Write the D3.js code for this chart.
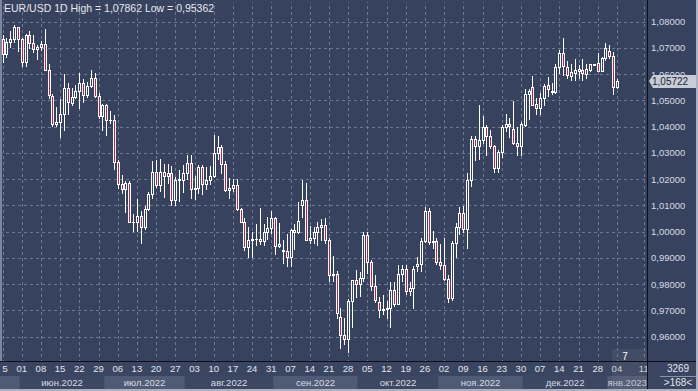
<!DOCTYPE html>
<html><head><meta charset="utf-8">
<script src="https://cdn.jsdelivr.net/npm/d3@7"></script>
<style>html,body{margin:0;padding:0;background:#38435f;overflow:hidden}svg{display:block}</style>
</head><body><svg id="c" width="698" height="391"></svg>
<script>
// ---- data ----
const openP = [1.0733,1.0678,1.0724,1.0733,1.0779,1.0733,1.0647,1.0750,1.0720,1.0697,1.0705,1.0716,1.0615,1.0516,1.0409,1.0418,1.0447,1.0548,1.0490,1.0512,
1.0535,1.0566,1.0521,1.0555,1.0584,1.0518,1.0442,1.0484,1.0427,1.0424,1.0265,1.0182,1.0163,1.0184,1.0038,1.0036,1.0061,1.0018,1.0085,1.0142,
1.0226,1.0179,1.0229,1.0211,1.0223,1.0120,1.0197,1.0197,1.0222,1.0260,1.0163,1.0166,1.0246,1.0181,1.0196,1.0212,1.0298,1.0323,1.0259,1.0160,
1.0168,1.0177,1.0087,1.0037,0.9942,0.9967,0.9971,0.9974,0.9965,1.0000,1.0015,1.0054,0.9944,0.9930,0.9926,0.9903,1.0006,1.0000,1.0100,1.0122,
0.9968,0.9977,0.9997,1.0016,1.0025,0.9970,0.9836,0.9837,0.9676,0.9608,0.9590,0.9736,0.9815,0.9801,0.9823,0.9986,0.9883,0.9793,0.9733,0.9701,
0.9705,0.9708,0.9779,0.9723,0.9838,0.9857,0.9774,0.9786,0.9868,0.9878,0.9965,1.0079,0.9962,0.9965,0.9884,0.9875,0.9821,0.9748,0.9958,1.0019,
1.0070,1.0010,1.0197,1.0355,1.0327,1.0350,1.0398,1.0366,1.0327,1.0242,1.0302,1.0400,1.0412,1.0390,1.0337,1.0326,1.0405,1.0524,1.0551,1.0488,
1.0471,1.0510,1.0560,1.0537,1.0531,1.0628,1.0681,1.0628,1.0592,1.0605,1.0620,1.0616,1.0602,1.0617,1.0638,1.0643,1.0611,1.0662,1.0687,1.0668,
1.0551];
const highP = [1.0749,1.0737,1.0765,1.0786,1.0780,1.0739,1.0752,1.0764,1.0749,1.0710,1.0727,1.0774,1.0640,1.0523,1.0476,1.0506,1.0601,1.0566,1.0546,1.0558,
1.0606,1.0580,1.0570,1.0615,1.0606,1.0529,1.0488,1.0486,1.0461,1.0445,1.0275,1.0215,1.0193,1.0194,1.0068,1.0124,1.0080,1.0096,1.0152,1.0269,
1.0273,1.0278,1.0258,1.0258,1.0249,1.0208,1.0234,1.0254,1.0293,1.0294,1.0213,1.0254,1.0253,1.0247,1.0249,1.0368,1.0364,1.0330,1.0270,1.0203,
1.0201,1.0200,1.0092,1.0051,1.0017,0.9999,1.0029,1.0090,1.0030,1.0055,1.0080,1.0057,1.0034,0.9967,0.9990,1.0011,1.0029,1.0113,1.0198,1.0187,
1.0020,1.0017,1.0036,1.0050,1.0051,0.9976,0.9907,0.9852,0.9708,0.9670,0.9745,0.9817,0.9853,0.9847,0.9999,0.9999,0.9893,0.9835,0.9750,0.9760,
0.9736,0.9807,0.9809,0.9873,0.9875,0.9874,0.9809,0.9870,0.9902,0.9976,1.0093,1.0089,1.0001,0.9976,0.9952,0.9976,0.9835,0.9966,1.0034,1.0094,
1.0097,1.0222,1.0365,1.0365,1.0481,1.0441,1.0406,1.0387,1.0330,1.0311,1.0407,1.0448,1.0434,1.0497,1.0400,1.0419,1.0545,1.0544,1.0594,1.0508,
1.0528,1.0563,1.0588,1.0565,1.0640,1.0694,1.0736,1.0650,1.0640,1.0658,1.0636,1.0657,1.0638,1.0640,1.0638,1.0681,1.0665,1.0717,1.0713,1.0684,
1.0580];
const lowP = [1.0642,1.0660,1.0698,1.0717,1.0684,1.0627,1.0627,1.0697,1.0682,1.0653,1.0690,1.0611,1.0507,1.0398,1.0398,1.0358,1.0382,1.0444,1.0477,1.0506,
1.0469,1.0492,1.0510,1.0546,1.0511,1.0431,1.0382,1.0366,1.0410,1.0236,1.0162,1.0144,1.0072,1.0037,0.9998,0.9998,0.9952,1.0007,1.0080,1.0123,
1.0167,1.0153,1.0130,1.0180,1.0096,1.0097,1.0113,1.0146,1.0197,1.0123,1.0122,1.0144,1.0141,1.0160,1.0177,1.0203,1.0273,1.0220,1.0153,1.0123,
1.0153,1.0077,1.0034,0.9926,0.9899,0.9900,0.9947,0.9950,0.9945,0.9968,0.9990,0.9910,0.9938,0.9877,0.9864,0.9864,0.9929,0.9990,1.0053,0.9966,
0.9955,0.9955,0.9945,0.9966,0.9954,0.9810,0.9807,0.9669,0.9553,0.9569,0.9536,0.9635,0.9748,0.9751,0.9807,0.9838,0.9775,0.9730,0.9670,0.9681,
0.9668,0.9632,0.9712,0.9721,0.9809,0.9759,0.9756,0.9705,0.9845,0.9846,0.9958,0.9951,0.9934,0.9872,0.9853,0.9813,0.9730,0.9735,0.9898,0.9986,
0.9995,0.9935,1.0172,1.0271,1.0273,1.0335,1.0290,1.0316,1.0223,1.0225,1.0279,1.0380,1.0357,1.0330,1.0290,1.0290,1.0400,1.0427,1.0482,1.0443,
1.0443,1.0480,1.0515,1.0520,1.0524,1.0602,1.0594,1.0580,1.0575,1.0574,1.0582,1.0573,1.0582,1.0610,1.0636,1.0607,1.0607,1.0649,1.0656,1.0522,
1.0545];
const closeP = [1.0678,1.0724,1.0733,1.0779,1.0733,1.0647,1.0750,1.0719,1.0697,1.0705,1.0716,1.0615,1.0519,1.0409,1.0418,1.0447,1.0548,1.0495,1.0512,1.0535,
1.0566,1.0521,1.0555,1.0584,1.0518,1.0442,1.0484,1.0425,1.0424,1.0265,1.0182,1.0163,1.0184,1.0038,1.0036,1.0061,1.0018,1.0085,1.0142,1.0226,
1.0179,1.0229,1.0211,1.0223,1.0120,1.0197,1.0200,1.0222,1.0260,1.0163,1.0166,1.0246,1.0181,1.0196,1.0212,1.0298,1.0323,1.0259,1.0160,1.0168,
1.0177,1.0087,1.0037,0.9942,0.9967,0.9971,0.9974,0.9965,1.0000,1.0015,1.0054,0.9944,0.9953,0.9926,0.9903,1.0006,1.0000,1.0042,1.0122,0.9968,
0.9977,0.9997,1.0016,1.0025,0.9970,0.9836,0.9837,0.9690,0.9608,0.9590,0.9736,0.9815,0.9801,0.9823,0.9986,0.9883,0.9793,0.9741,0.9701,0.9705,
0.9708,0.9779,0.9723,0.9838,0.9857,0.9774,0.9786,0.9858,0.9878,0.9965,1.0079,0.9962,0.9965,0.9884,0.9875,0.9821,0.9748,0.9958,1.0019,1.0070,
1.0010,1.0197,1.0355,1.0327,1.0350,1.0398,1.0366,1.0327,1.0242,1.0302,1.0400,1.0412,1.0402,1.0337,1.0326,1.0410,1.0526,1.0537,1.0484,1.0471,
1.0510,1.0554,1.0544,1.0531,1.0628,1.0681,1.0630,1.0598,1.0607,1.0617,1.0614,1.0604,1.0620,1.0638,1.0636,1.0611,1.0662,1.0700,1.0668,1.0551,
1.05722];
const tickLabels = ["25","01","08","15","22","29","06","13","20","27","03","10","17","24","31","07","14","21","28",
"05","12","19","26","02","09","16","23","30","07","14","21","28","04"];
const futureTick = "11";
const monthLabels = ["","июн.2022","июл.2022","авг.2022","сен.2022","окт.2022","ноя.2022","дек.2022","янв.2023"];
const monthStart = [0,5,27,48,71,93,114,136,158];
const priceTicks = [0.96,0.97,0.98,0.99,1.00,1.01,1.02,1.03,1.04,1.05,1.06,1.07,1.08];
const titleText = "EUR/USD 1D High = 1,07862 Low = 0,95362";
const lastPrice = 1.05722;
const footTop = "3269", footBottom = ">168<", futureCount = "7";

// ---- layout ----
const W = 698, H = 391, plotR = 647, plotB = 361;
const N = closeP.length;
const svg = d3.select("#c");
const x = d3.scaleLinear().domain([0, N - 1]).range([2.5, 616.9]);
const y = d3.scaleLinear().domain([0.96, 1.08]).range([336.7, 21.7]);
const fmt = v => d3.format(".5f")(v).replace(".", ",");
const FONT = "'Liberation Sans', Arial, sans-serif";
const BG = "#37425e";

svg.append("rect").attr("width", W).attr("height", H).attr("fill", BG);
const defs = svg.append("defs");
defs.append("clipPath").attr("id", "pc").append("rect")
  .attr("x", 2).attr("y", 2).attr("width", plotR - 2).attr("height", plotB - 2);
defs.append("clipPath").attr("id", "bc").append("rect")
  .attr("x", 2).attr("y", plotB).attr("width", plotR - 2).attr("height", H - plotB);
const plot = svg.append("g").attr("clip-path", "url(#pc)");

// grid
const gridCol = "#6d7994";
plot.selectAll("line.h").data(priceTicks).join("line")
  .attr("x1", 0).attr("x2", plotR)
  .attr("y1", d => Math.round(y(d)) + 0.5).attr("y2", d => Math.round(y(d)) + 0.5)
  .attr("stroke", gridCol).attr("stroke-dasharray", "3,3");
const tickIdx = tickLabels.map((t, k) => k * 5);
const allTicks = tickIdx.concat([N - 1 + 7]);
plot.selectAll("line.v").data(allTicks).join("line")
  .attr("y1", 0).attr("y2", plotB)
  .attr("x1", d => Math.round(x(d)) + 0.5).attr("x2", d => Math.round(x(d)) + 0.5)
  .attr("stroke", gridCol).attr("stroke-dasharray", "3,3");

// candles
const data = d3.range(N).map(i => ({i, o: openP[i], h: highP[i], l: lowP[i], c: closeP[i]}));
const cg = plot.append("g").attr("shape-rendering", "crispEdges");
cg.selectAll("rect.w").data(data).join("rect")
  .attr("x", d => Math.round(x(d.i)))
  .attr("width", 1)
  .attr("y", d => Math.round(y(d.h)))
  .attr("height", d => Math.max(1, Math.round(y(d.l)) - Math.round(y(d.h))))
  .attr("fill", "#ffffff");
cg.selectAll("rect.b").data(data).join("rect")
  .attr("x", d => Math.round(x(d.i)) - 1)
  .attr("width", 3)
  .attr("y", d => Math.round(y(Math.max(d.o, d.c))))
  .attr("height", d => Math.max(1, Math.round(y(Math.min(d.o, d.c))) - Math.round(y(Math.max(d.o, d.c))) + 1))
  .attr("fill", "#ffffff");
cg.selectAll("rect.in").data(data.filter(d => Math.round(y(Math.min(d.o, d.c))) - Math.round(y(Math.max(d.o, d.c))) >= 2)).join("rect")
  .attr("x", d => Math.round(x(d.i)))
  .attr("width", 1)
  .attr("y", d => Math.round(y(Math.max(d.o, d.c))) + 1)
  .attr("height", d => Math.round(y(Math.min(d.o, d.c))) - Math.round(y(Math.max(d.o, d.c))) - 1)
  .attr("fill", d => d.c < d.o ? "#b3264c" : BG);

// title
svg.append("text").attr("x", 4).attr("y", 11.5).attr("font-family", FONT).attr("font-size", 10.5)
  .attr("fill", "#e6e8ee").text(titleText);

// left border line
svg.append("rect").attr("x", 0).attr("y", 0).attr("width", 2).attr("height", plotB).attr("fill", "#7d879c");

// right axis
svg.append("g").selectAll("text").data(priceTicks).join("text")
  .attr("x", 651).attr("y", d => y(d) + 3.5)
  .attr("font-family", FONT).attr("font-size", 9.5).attr("fill", "#d7dbe4")
  .text(d => fmt(d));

// last price marker
const ly = Math.round(y(lastPrice));
svg.append("path")
  .attr("d", `M${plotR + 2},${ly} L${plotR + 6},${ly - 6} L${W - 2},${ly - 6} L${W - 2},${ly + 7} L${plotR + 6},${ly + 7} Z`)
  .attr("fill", "#c8ccd6");
svg.append("text").attr("x", 652).attr("y", ly + 4).attr("font-family", FONT).attr("font-size", 10)
  .attr("fill", "#1d2435").text(fmt(lastPrice));

// bottom rows
svg.append("rect").attr("x", 0).attr("y", plotB).attr("width", plotR).attr("height", 15).attr("fill", "#3a4561");
const mg = svg.append("g");
monthStart.forEach((s, k) => {
  const e = k + 1 < monthStart.length ? monthStart[k + 1] - 1 : N - 1 + 8;
  const x0 = k === 0 ? 0 : (x(s) + x(s - 1)) / 2;
  const x1 = Math.min(plotR, k + 1 < monthStart.length ? (x(e) + x(e + 1)) / 2 : plotR);
  mg.append("rect").attr("x", x0).attr("y", 376).attr("width", x1 - x0).attr("height", 13)
    .attr("fill", k % 2 === 0 ? "#4f5b75" : "#3c4762");
  if (monthLabels[k]) mg.append("text").attr("x", (x0 + x1) / 2).attr("y", 386)
    .attr("text-anchor", "middle").attr("font-family", FONT).attr("font-size", 9.5)
    .attr("fill", "#d7dbe4").text(monthLabels[k]);
});
svg.append("g").attr("clip-path", "url(#bc)").selectAll("text").data(tickLabels.concat([futureTick])).join("text")
  .attr("x", (d, k) => x(allTicks[k]))
  .attr("y", 372).attr("text-anchor", "middle")
  .attr("font-family", FONT).attr("font-size", 9.5).attr("fill", "#e2e5ec")
  .text(d => d);

// future overlay
svg.append("rect").attr("x", 612).attr("y", 349).attr("width", plotR - 612).attr("height", 40)
  .attr("fill", "#6e7380").attr("opacity", 0.22);
svg.append("text").attr("x", 625).attr("y", 360).attr("text-anchor", "middle").attr("font-family", FONT)
  .attr("font-size", 10).attr("fill", "#ffffff").text(futureCount);

// separators
svg.append("rect").attr("x", plotR).attr("y", 0).attr("width", 1).attr("height", H).attr("fill", "#0c0f18");
svg.append("rect").attr("x", 0).attr("y", plotB).attr("width", W).attr("height", 1).attr("fill", "#0c0f18");

// right-bottom panel
svg.append("rect").attr("x", plotR + 1).attr("y", plotB + 1).attr("width", W - plotR - 3).attr("height", H - plotB - 3).attr("fill", "#3a4561");
svg.append("text").attr("x", 678).attr("y", 372).attr("text-anchor", "middle").attr("font-family", FONT)
  .attr("font-size", 10).attr("fill", "#e2e5ec").text(footTop);
svg.append("rect").attr("x", 660).attr("y", 376).attr("width", 36).attr("height", 1).attr("fill", "#8a93a8");
svg.append("text").attr("x", 678).attr("y", 386).attr("text-anchor", "middle").attr("font-family", FONT)
  .attr("font-size", 10).attr("fill", "#e2e5ec").text(footBottom);

// outer frame
svg.append("rect").attr("x", 0).attr("y", H - 2).attr("width", W).attr("height", 2).attr("fill", "#aab2c2");
svg.append("rect").attr("x", W - 2).attr("y", 0).attr("width", 2).attr("height", H).attr("fill", "#aab2c2");
</script></body></html>
